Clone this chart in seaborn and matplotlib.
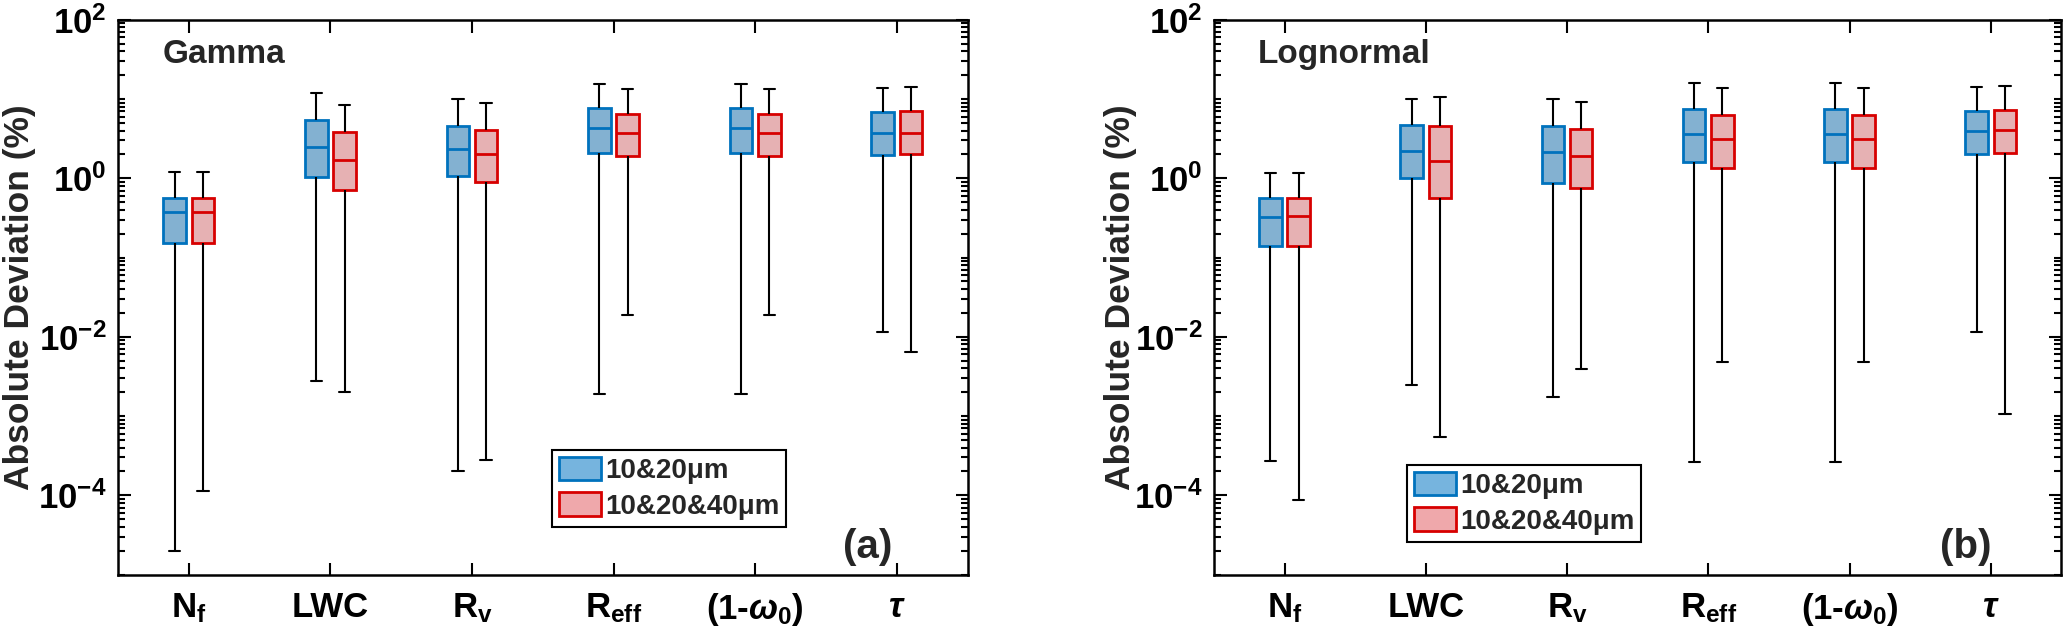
import matplotlib
matplotlib.use('Agg')
import matplotlib.pyplot as plt
import numpy as np
import pandas as pd
import seaborn as sns
from matplotlib.patches import Patch
from matplotlib.ticker import LogLocator, FuncFormatter, NullLocator, NullFormatter, FixedLocator

CATEGORIES = ['Nf', 'LWC', 'Rv', 'Reff', '1-w0', 'tau']
TICK_LABELS = [r'$\mathdefault{N_f}$', 'LWC', r'$\mathdefault{R_v}$', r'$\mathdefault{R_{eff}}$',
               r'(1-$\mathit{\omega}_{0}$)', r'$\mathit{\tau}$']
Y_TICKS = [1e-4, 1e-2, 1e0, 1e2]
GROUPS = ['10&20μm', '10&20&40μm']
PANELS = ['Gamma', 'Lognormal']
PANEL_TAGS = ['(a)', '(b)']

# five-number summaries (whisker low, Q1, median, Q3, whisker high), in %
gamma_lo_1 = [2.0e-5, 2.8e-3, 2.0e-4, 1.9e-3, 1.9e-3, 0.0116]
gamma_q1_1 = [0.152, 1.05, 1.07, 2.10, 2.10, 1.98]
gamma_med_1 = [0.376, 2.45, 2.31, 4.26, 4.26, 3.70]
gamma_q3_1 = [0.57, 5.5, 4.62, 7.6, 7.6, 6.8]
gamma_hi_1 = [1.19, 11.9, 9.9, 15.6, 15.6, 13.8]

gamma_lo_2 = [1.12e-4, 2.0e-3, 2.8e-4, 0.019, 0.019, 6.4e-3]
gamma_q1_2 = [0.152, 0.72, 0.90, 1.89, 1.89, 2.03]
gamma_med_2 = [0.376, 1.70, 2.03, 3.70, 3.70, 3.78]
gamma_q3_2 = [0.57, 3.88, 4.1, 6.4, 6.4, 7.15]
gamma_hi_2 = [1.19, 8.5, 8.8, 13.3, 13.3, 14.3]

logn_lo_1 = [2.7e-4, 2.44e-3, 1.73e-3, 2.66e-4, 2.66e-4, 0.0115]
logn_q1_1 = [0.138, 1.01, 0.88, 1.60, 1.60, 2.05]
logn_med_1 = [0.32, 2.18, 2.15, 3.61, 3.61, 4.0]
logn_q3_1 = [0.57, 4.68, 4.52, 7.5, 7.5, 6.98]
logn_hi_1 = [1.18, 10.0, 10.0, 16.1, 16.1, 14.1]

logn_lo_2 = [8.7e-5, 5.5e-4, 3.9e-3, 4.8e-3, 4.8e-3, 1.07e-3]
logn_q1_2 = [0.138, 0.56, 0.75, 1.36, 1.36, 2.1]
logn_med_2 = [0.33, 1.64, 1.89, 3.10, 3.10, 4.06]
logn_q3_2 = [0.57, 4.6, 4.2, 6.35, 6.35, 7.3]
logn_hi_2 = [1.18, 10.6, 9.2, 13.8, 13.8, 14.7]

FILL = {GROUPS[0]: '#76B4DE', GROUPS[1]: '#EFA8AB'}
EDGE = {GROUPS[0]: '#0072BD', GROUPS[1]: '#D70000'}

sns.set_style('ticks')
plt.rcParams['font.family'] = ['Liberation Sans', 'DejaVu Sans']
plt.rcParams['font.weight'] = 'bold'
plt.rcParams['mathtext.fontset'] = 'custom'
plt.rcParams['mathtext.rm'] = 'Liberation Sans:bold'
plt.rcParams['mathtext.it'] = 'Liberation Sans:italic:bold'
plt.rcParams['mathtext.bf'] = 'Liberation Sans:bold'
plt.rcParams['mathtext.default'] = 'regular'
plt.rcParams['axes.edgecolor'] = 'black'
plt.rcParams['axes.linewidth'] = 1.8


def long_table(series):
    # each box gets its five summary values; with whis=(0, 100) seaborn reproduces them exactly
    rows = []
    for group, arrays in series:
        for i, cat in enumerate(CATEGORIES):
            for arr in arrays:
                rows.append({'Parameter': cat, 'Group': group, 'Deviation': arr[i]})
    return pd.DataFrame(rows)


gamma_df = long_table([
    (GROUPS[0], [gamma_lo_1, gamma_q1_1, gamma_med_1, gamma_q3_1, gamma_hi_1]),
    (GROUPS[1], [gamma_lo_2, gamma_q1_2, gamma_med_2, gamma_q3_2, gamma_hi_2]),
])
logn_df = long_table([
    (GROUPS[0], [logn_lo_1, logn_q1_1, logn_med_1, logn_q3_1, logn_hi_1]),
    (GROUPS[1], [logn_lo_2, logn_q1_2, logn_med_2, logn_q3_2, logn_hi_2]),
])

fig = plt.figure(figsize=(20.67, 6.38), dpi=100)
ax_pos = [[0.0571, 0.0995, 0.411, 0.8695], [0.5873, 0.0995, 0.410, 0.8695]]
legend_anchor = [(0.511, 0.0865), (0.228, 0.0595)]
tag_x = [0.912, 0.917]
ylabel_x = [-0.096, -0.091]

for k, df in enumerate([gamma_df, logn_df]):
    ax = fig.add_axes(ax_pos[k])
    sns.boxplot(data=df, x='Parameter', y='Deviation', hue='Group', order=CATEGORIES,
                hue_order=GROUPS, palette=FILL, whis=(0, 100), width=0.4, gap=0.2,
                showfliers=False, log_scale=True, linecolor='black', linewidth=1.5,
                legend=False, ax=ax)

    # colour box outlines and medians per group, whiskers/caps stay black
    for patch in ax.patches:
        xc = patch.get_path().vertices[:, 0].mean()
        grp = GROUPS[0] if xc - round(xc) < 0 else GROUPS[1]
        patch.set_edgecolor(EDGE[grp])
        patch.set_linewidth(2.0)
    for line in ax.lines:
        xd, yd = np.asarray(line.get_xdata()), np.asarray(line.get_ydata())
        if len(xd) == 2 and yd[0] == yd[1] and abs(xd[1] - xd[0]) > 0.12:
            xc = xd.mean()
            grp = GROUPS[0] if xc - round(xc) < 0 else GROUPS[1]
            line.set_color(EDGE[grp])
            line.set_linewidth(2.0)
            line.set_zorder(5)

    ax.set_ylim(1e-5, 1e2)
    ax.set_xlim(-0.5, 5.5)
    ax.yaxis.set_major_locator(FixedLocator(Y_TICKS))
    ax.yaxis.set_minor_locator(LogLocator(base=10, subs=np.arange(1, 10), numticks=100))
    ax.yaxis.set_major_formatter(FuncFormatter(lambda v, p: r'$\mathdefault{10^{%d}}$' % round(np.log10(v))))
    ax.yaxis.set_minor_formatter(NullFormatter())
    ax.xaxis.set_minor_locator(NullLocator())
    ax.set_xticks(range(len(CATEGORIES)))
    ax.set_xticklabels(TICK_LABELS)
    ax.tick_params(which='both', direction='in', top=True, right=True, width=1.5, colors='black')
    ax.tick_params(which='major', length=9, labelsize=25)
    ax.tick_params(which='minor', length=5)
    ax.tick_params(axis='x', pad=12)
    ax.tick_params(axis='y', pad=8)
    for spine in ax.spines.values():
        spine.set_visible(True)
        spine.set_color('black')

    ax.set_xlabel('')
    ax.set_ylabel('Absolute Deviation (%)', fontsize=25.5, fontweight='bold')
    ax.yaxis.set_label_coords(ylabel_x[k], 0.5)
    ax.text(0.052, 0.966, PANELS[k], transform=ax.transAxes, fontsize=24, fontweight='bold',
            ha='left', va='top')
    ax.text(tag_x[k], 0.03, PANEL_TAGS[k], transform=ax.transAxes, fontsize=29, fontweight='bold',
            ha='right', va='baseline')

    handles = [Patch(facecolor=FILL[g], edgecolor=EDGE[g], linewidth=2.0, label=g) for g in GROUPS]
    leg = ax.legend(handles=handles, loc='lower left', bbox_to_anchor=legend_anchor[k],
                    borderaxespad=0, fontsize=20, frameon=True, fancybox=False,
                    edgecolor='black', framealpha=1, handlelength=1.5, handleheight=0.9,
                    handletextpad=0.15, borderpad=0.25, labelspacing=0.3)
    leg.get_frame().set_linewidth(1.5)
    for t in leg.get_texts():
        t.set_fontweight('bold')

fig.savefig('out.png', dpi=100)
